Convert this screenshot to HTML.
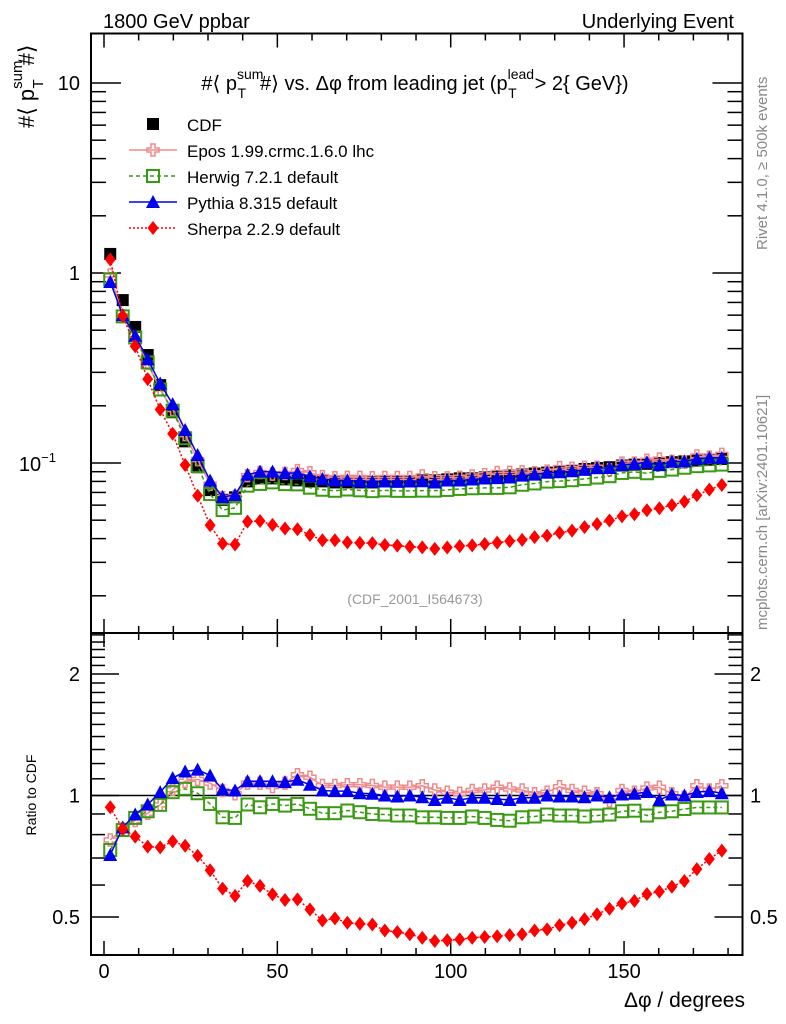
<!DOCTYPE html>
<html><head><meta charset="utf-8"><style>
body{margin:0;background:#fff;}
svg{display:block;font-family:"Liberation Sans",sans-serif;}
</style></head><body>
<svg id="chart" width="786" height="1024" viewBox="0 0 786 1024" xmlns="http://www.w3.org/2000/svg">
<text x="103" y="28" font-size="20">1800 GeV ppbar</text>
<text x="734" y="28" font-size="20" text-anchor="end">Underlying Event</text>
<text x="415" y="90" font-size="20" text-anchor="middle">#⟨ p<tspan font-size="14" dy="-11">sum</tspan><tspan font-size="14" dx="-26" dy="19">T</tspan><tspan dx="14" dy="-8">#⟩ vs. Δφ from leading jet  (p</tspan><tspan font-size="14" dy="-11">lead</tspan><tspan font-size="14" dx="-26" dy="19">T</tspan><tspan dx="18" dy="-8">&gt; 2{ GeV})</tspan></text>
<text transform="translate(34,128) rotate(-90)" font-size="22">#⟨ p<tspan font-size="15" dy="-12">sum</tspan><tspan font-size="15" dx="-28" dy="21">T</tspan><tspan dx="14" dy="-9">#⟩</tspan></text>
<text transform="translate(36,795) rotate(-90)" font-size="14" text-anchor="middle">Ratio to CDF</text>
<text x="745" y="1007" font-size="21" text-anchor="end">Δφ / degrees</text>
<text transform="translate(767,250) rotate(-90)" font-size="15" fill="#888">Rivet 4.1.0, ≥ 500k events</text>
<text transform="translate(767,630) rotate(-90)" font-size="15" fill="#888">mcplots.cern.ch [arXiv:2401.10621]</text>
<text x="415" y="604" font-size="14" fill="#999" text-anchor="middle">(CDF_2001_I564673)</text>
<g id="g"></g>
</svg>
<script>
const xVals = [];
for (let i = 0; i < 50; i++) xVals.push(1.8 + 3.6 * i);
const cdfVals = [1.26,0.72,0.52,0.37,0.257,0.185,0.13,0.095,0.072,0.064,0.066,0.080,0.083,0.083,0.082,0.081,0.080,0.080,0.079,0.079,0.079,0.079,0.080,0.080,0.080,0.081,0.081,0.082,0.083,0.083,0.084,0.085,0.086,0.087,0.088,0.089,0.090,0.091,0.093,0.094,0.095,0.097,0.098,0.099,0.100,0.101,0.102,0.103,0.104,0.105];
const eposRatio = [0.776,0.826,0.867,0.904,0.948,1.033,1.085,1.096,1.073,1.029,1.010,1.073,1.073,1.053,1.073,1.126,1.110,1.059,1.059,1.063,1.063,1.059,1.049,1.049,1.048,1.057,1.032,1.019,1.013,1.029,1.032,1.048,1.038,1.032,1.01,1.019,1.051,1.029,1.019,1.01,0.97,1.029,1.019,1.044,1.048,1.01,0.99,1.057,1.032,1.057];
const herwigRatio = [0.733,0.821,0.880,0.914,0.948,1.019,1.039,1.013,0.953,0.883,0.880,0.950,0.935,0.953,0.944,0.953,0.927,0.904,0.904,0.918,0.909,0.900,0.897,0.892,0.892,0.883,0.883,0.880,0.880,0.887,0.880,0.870,0.866,0.883,0.887,0.897,0.892,0.892,0.887,0.892,0.897,0.914,0.917,0.892,0.909,0.914,0.926,0.934,0.934,0.934];
const pythiaRatio = [0.712,0.834,0.897,0.950,1.019,1.104,1.147,1.159,1.121,1.035,1.029,1.085,1.085,1.085,1.079,1.094,1.063,1.029,1.025,1.025,1.013,1.010,1.0,0.994,1.00,0.99,0.975,0.987,0.975,0.987,0.987,0.98,0.975,0.987,0.987,1.0,0.994,0.994,0.99,1.0,0.99,1.006,1.01,1.02,0.975,1.006,1.0,1.02,1.025,1.013];
const sherpaRatio = [0.935,0.826,0.791,0.747,0.744,0.770,0.751,0.709,0.653,0.588,0.564,0.614,0.597,0.569,0.551,0.553,0.522,0.490,0.496,0.484,0.481,0.479,0.463,0.459,0.453,0.444,0.436,0.438,0.440,0.444,0.446,0.448,0.451,0.453,0.463,0.466,0.477,0.484,0.494,0.508,0.524,0.540,0.548,0.570,0.578,0.594,0.614,0.657,0.696,0.730];
const xTicks = [0,50,100,150];
const ratioTicks = [0.5,1,2];

const NS = "http://www.w3.org/2000/svg";
const g = document.getElementById('g');
const L = 91, R = 742.5, T1 = 33.5, B1 = 633, B2 = 955;
const xs = d => 104 + 3.467 * d;
const ym = v => 273 - 190 * Math.log10(v);
const yr = v => 795.5 - 121.5 * Math.log2(v);
function el(tag, attrs, parent) {
  const e = document.createElementNS(NS, tag);
  for (const k in attrs) e.setAttribute(k, attrs[k]);
  (parent || g).appendChild(e);
  return e;
}
const f1 = el('rect', {x:L, y:T1, width:R-L, height:B1-T1, fill:'none', stroke:'#000', 'stroke-width':2});


const f2 = el('rect', {x:L, y:B1, width:R-L, height:B2-B1, fill:'none', stroke:'#000', 'stroke-width':2});


for (let d = 0; d <= 180; d += 10) {
  const x = xs(d), major = d % 50 === 0, len = major ? 14 : 7;
  [[T1, 1], [B1, -1], [B1, 1], [B2, -1]].forEach(([y, s]) => {
    const t = el('line', {x1:x, x2:x, y1:y, y2:y + s*len, stroke:'#000', 'stroke-width':1.5});
    
    
  });
}
xTicks.forEach(d => {
  const t = el('text', {x:xs(d), y:978, 'font-size':20, 'text-anchor':'middle'});
  t.textContent = d;
  
  
});
for (let e = -2; e <= 1; e++) {
  for (let m = 1; m <= 9; m++) {
    const v = m * Math.pow(10, e), y = ym(v);
    if (y < T1 || y > B1) continue;
    const len = m === 1 ? 30 : 15;
    [[L, 1], [R, -1]].forEach(([x, s]) => {
      const t = el('line', {x1:x, x2:x + s*len, y1:y, y2:y, stroke:'#000', 'stroke-width':1.5});
      
      
    });
  }
}
[[10,'10'],[1,'1']].forEach(([v, s]) => {
  const t = el('text', {x:80, y:ym(v)+7, 'font-size':20, 'text-anchor':'end'});
  t.textContent = s;
  
  
});
const tm = el('text', {x:56, y:ym(0.1)+8, 'font-size':20, 'text-anchor':'end'});
tm.innerHTML = '10<tspan font-size="13" dy="-9">−1</tspan>';


for (let k = 4; k <= 25; k++) {
  const vv = k / 10, y = yr(vv);
  if (y < B1 || y > B2) continue;
  const major = [0.5,1,2].includes(vv), len = major ? 28 : 14;
  [[L, 1], [R, -1]].forEach(([x, s]) => {
    const t = el('line', {x1:x, x2:x + s*len, y1:y, y2:y, stroke:'#000', 'stroke-width':1.5});
    
    
  });
}
ratioTicks.forEach(v => {
  [[80,'end'],[750,'start']].forEach(([x, a]) => {
    const t = el('text', {x:x, y:yr(v)+7, 'font-size':20, 'text-anchor':a});
    t.textContent = v;
    
    
  });
});
const one = el('line', {x1:L, x2:R, y1:yr(1), y2:yr(1), stroke:'#000', 'stroke-width':1.5});



function marker(type, x, y, color, parent) {
  let m;
  if (type === 'sq') m = el('rect', {x:x-6, y:y-6, width:12, height:12, fill:color}, parent);
  else if (type === 'osq') m = el('rect', {x:x-6, y:y-6, width:12, height:12, fill:'none', stroke:color, 'stroke-width':2}, parent);
  else if (type === 'tri') m = el('polygon', {points:`${x},${y-7} ${x-7},${y+6} ${x+7},${y+6}`, fill:color}, parent);
  else if (type === 'dia') m = el('polygon', {points:`${x},${y-7} ${x-5.5},${y} ${x},${y+7} ${x+5.5},${y}`, fill:color}, parent);
  else m = el('path', {d:`M${x-2},${y-6}h4v4h4v4h-4v4h-4v-4h-4v-4h4z`, fill:'none', stroke:color, 'stroke-width':1.5}, parent);
  return m;
}
const series = [
  {name:'epos', ratio:eposRatio, color:'#f08a8a', m:'cross', dash:null, label:'Epos 1.99.crmc.1.6.0 lhc'},
  {name:'herwig', ratio:herwigRatio, color:'#3a9a12', m:'osq', dash:'4,3', label:'Herwig 7.2.1 default'},
  {name:'pythia', ratio:pythiaRatio, color:'#0000ee', m:'tri', dash:null, label:'Pythia 8.315 default'},
  {name:'sherpa', ratio:sherpaRatio, color:'#ff0000', m:'dia', dash:'2,2', label:'Sherpa 2.2.9 default'}
];
const cg = el('g', {});


cdfVals.forEach((v, i) => {
  const m = marker('sq', xs(xVals[i]), ym(v), '#000', cg);
  
  
});
series.forEach(s => {
  const mainPts = s.ratio.map((r, i) => [xs(xVals[i]), ym(r * cdfVals[i])]);
  const ratPts = s.ratio.map((r, i) => [xs(xVals[i]), yr(r)]);
  [[mainPts, 'main'], [ratPts, 'ratio']].forEach(([pts, where]) => {
    const sg = el('g', {});
    
    
    const attrs = {points:pts.map(p => p.join(',')).join(' '), fill:'none', stroke:s.color, 'stroke-width':1.5};
    if (s.dash) attrs['stroke-dasharray'] = s.dash;
    const pl = el('polyline', attrs, sg);
    
    
    pts.forEach(p => {
      const m = marker(s.m, p[0], p[1], s.color, sg);
      
      
    });
  });
});
const lg = el('g', {});


const e0 = el('g', {}, lg);


marker('sq', 153, 124, '#000', e0);
const t0 = el('text', {x:187, y:131, 'font-size':17}, e0);
t0.textContent = 'CDF';
series.forEach((s, i) => {
  const y = 150 + 26 * i;
  const eg = el('g', {}, lg);
  
  
  const a = {x1:129, x2:177, y1:y, y2:y, stroke:s.color, 'stroke-width':1.5};
  if (s.dash) a['stroke-dasharray'] = s.dash;
  el('line', a, eg);
  marker(s.m, 153, y, s.color, eg);
  const t = el('text', {x:187, y:y+7, 'font-size':17}, eg);
  t.textContent = s.label;
});
</script>
</body></html>
